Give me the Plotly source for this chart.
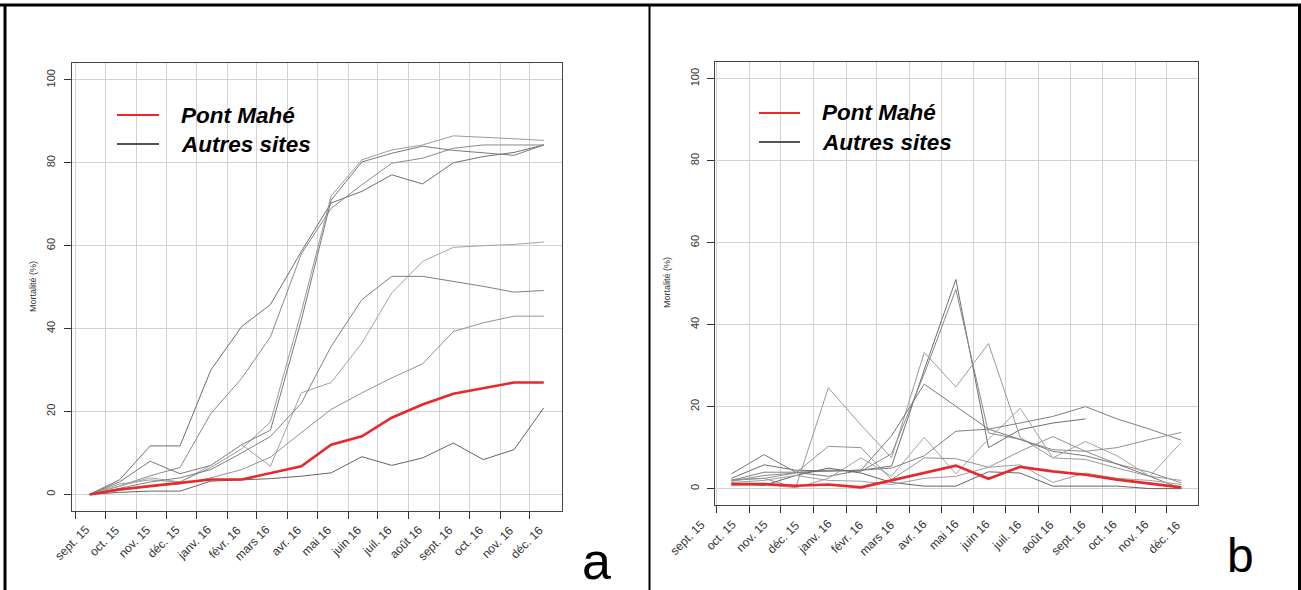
import plotly.graph_objects as go
import pandas as pd

W, H = 1301, 590

# ---------------- data ----------------
dates_a = ["2015-09-15", "2015-10-15", "2015-11-15", "2015-12-15", "2016-01-15", "2016-02-15",
           "2016-03-15", "2016-04-15", "2016-05-15", "2016-06-15", "2016-07-15", "2016-08-15",
           "2016-09-15", "2016-10-15", "2016-11-15", "2016-12-15"]
dates_b = dates_a[1:]

month_starts_a = ["2015-09-01", "2015-10-01", "2015-11-01", "2015-12-01", "2016-01-01", "2016-02-01",
                  "2016-03-01", "2016-04-01", "2016-05-01", "2016-06-01", "2016-07-01", "2016-08-01",
                  "2016-09-01", "2016-10-01", "2016-11-01", "2016-12-01"]
month_starts_b = month_starts_a[1:]

month_labels = ["sept. 15", "oct. 15", "nov. 15", "déc. 15", "janv. 16", "févr. 16", "mars 16",
                "avr. 16", "mai 16", "juin 16", "juil. 16", "août 16", "sept. 16", "oct. 16",
                "nov. 16", "déc. 16"]

# panel a : cumulative mortality (%)
pont_mahe_a = [0, 1.2, 2.0, 2.8, 3.6, 3.6, 5.2, 6.8, 12.0, 14.0, 18.5, 21.7, 24.3, 25.7, 27.0, 27.0]
autres_a_1 = [0, 3.5, 11.7, 11.7, 30.0, 40.5, 45.8, 58.6, 70.3, 73.1, 77.1, 74.9, 80.0, 81.5, 82.5, 84.3]
autres_a_2 = [0, 2.0, 4.5, 6.5, 19.5, 28.0, 38.0, 58.0, 69.0, 74.7, 79.9, 81.1, 83.5, 84.3, 84.3, 84.3]
autres_a_3 = [0, 2.5, 3.5, 3.0, 6.5, 11.0, 17.5, 44.0, 72.0, 80.7, 83.1, 84.3, 86.5, 86.2, 85.8, 85.4]
autres_a_4 = [0, 3.0, 8.0, 5.0, 7.0, 12.0, 15.5, 42.0, 71.0, 80.2, 82.3, 84.0, 83.0, 82.5, 81.8, 84.3]
autres_a_5 = [0, 2.0, 4.0, 3.0, 7.0, 12.0, 6.8, 24.5, 27.0, 36.5, 48.6, 56.2, 59.6, 60.0, 60.3, 60.9]
autres_a_6 = [0, 1.5, 3.0, 4.0, 6.0, 10.0, 14.0, 22.0, 35.7, 47.0, 52.6, 52.6, 51.4, 50.2, 48.8, 49.2]
autres_a_7 = [0, 1.0, 2.0, 2.5, 4.0, 6.0, 9.0, 14.9, 20.5, 24.5, 28.1, 31.5, 39.3, 41.4, 43.0, 43.0]
autres_a_8 = [0, 0.5, 0.8, 0.8, 3.2, 3.6, 3.8, 4.4, 5.2, 9.1, 7.0, 8.8, 12.4, 8.4, 10.8, 20.9]

# panel b : monthly mortality (%)
pont_mahe_b = [1.1, 1.1, 0.7, 1.0, 0.3, 2.0, 3.8, 5.6, 2.4, 5.3, 4.2, 3.4, 2.2, 1.2, 0.3]
autres_b_1 = [2.5, 5.8, 4.5, 4.3, 4.5, 5.5, 29.0, 51.0, 10.0, 14.4, 16.0, 17.0, None, None, None]
autres_b_2 = [1.8, 3.2, 3.8, 4.5, 4.2, 8.5, 28.0, 48.6, 13.6, 12.0, 9.5, 9.1, 6.0, 4.0, 1.4]
autres_b_3 = [2.2, 2.5, 0.2, 24.6, 15.5, 7.5, 33.2, 24.8, 35.4, 12.5, 7.5, 7.1, 5.0, 3.0, 2.0]
autres_b_4 = [3.6, 8.3, 4.0, 3.0, 4.5, 12.9, 25.5, 20.0, 14.5, 12.0, 9.1, 8.0, 6.0, 3.0, 0.0]
autres_b_5 = [0.8, 1.0, 0.2, 2.5, 7.5, 3.0, 12.5, 3.6, 12.1, 19.6, 7.5, 11.5, 8.0, 3.0, 11.3]
autres_b_6 = [2.0, 4.0, 4.0, 4.2, 4.5, 5.0, 8.0, 14.0, 14.5, 16.0, 17.6, 20.0, 17.0, 14.5, 11.8]
autres_b_7 = [2.0, 2.5, 3.8, 10.3, 10.0, 2.2, 7.5, 7.3, 5.2, 9.1, 12.7, 9.1, 10.0, 12.0, 13.7]
autres_b_8 = [1.2, 0.8, 3.2, 5.0, 3.8, 1.5, 0.6, 0.6, 4.1, 3.8, 0.6, 0.6, 0.6, 0.0, 0.0]
autres_b_9 = [1.5, 2.0, 3.2, 2.0, 1.8, 1.0, 2.5, 3.0, 5.2, 5.8, 1.5, 3.8, 2.5, 2.0, 1.0]

autres_a = [autres_a_1, autres_a_2, autres_a_3, autres_a_4, autres_a_5, autres_a_6, autres_a_7, autres_a_8]
autres_b = [autres_b_1, autres_b_2, autres_b_3, autres_b_4, autres_b_5, autres_b_6, autres_b_7,
            autres_b_8, autres_b_9]

# ---------------- style ----------------
RED = "#e8282b"
GREYS = ["#6e6e6e", "#8a8a8a", "#9a9a9a", "#7a7a7a", "#a3a3a3", "#808080", "#929292", "#656565", "#9e9e9e"]
GRID = "#d2d2d2"
FONT = "Liberation Sans, Arial, sans-serif"
RANGE_A = ["2015-08-28", "2017-01-02"]
RANGE_B = ["2015-09-29 10:00", "2016-12-30 12:00"]


def px_x(p):
    return p / W


def px_y(p):
    return 1 - p / H


fig = go.Figure()

for i, s in enumerate(autres_a):
    fig.add_trace(go.Scatter(x=dates_a, y=s, mode="lines", xaxis="x", yaxis="y",
                             line=dict(color=GREYS[i % len(GREYS)], width=1), showlegend=False,
                             name="Autres sites"))
fig.add_trace(go.Scatter(x=dates_a, y=pont_mahe_a, mode="lines", xaxis="x", yaxis="y",
                         line=dict(color=RED, width=2.6), showlegend=False, name="Pont Mahé"))

for i, s in enumerate(autres_b):
    fig.add_trace(go.Scatter(x=dates_b, y=s, mode="lines", xaxis="x2", yaxis="y2",
                             line=dict(color=GREYS[i % len(GREYS)], width=1), showlegend=False,
                             name="Autres sites", connectgaps=False))
fig.add_trace(go.Scatter(x=dates_b, y=pont_mahe_b, mode="lines", xaxis="x2", yaxis="y2",
                         line=dict(color=RED, width=2.6), showlegend=False, name="Pont Mahé"))

dom_a_x = [px_x(71.7), px_x(561.7)]
dom_a_y = [px_y(511), px_y(63.3)]
dom_b_x = [px_x(715), px_x(1197.7)]
dom_b_y = [px_y(505), px_y(62.3)]

xtickfont = dict(family=FONT, size=12, color="#333333")
ytickfont = dict(family=FONT, size=11, color="#333333")

common_x = dict(type="date", tickmode="array", showgrid=True, gridcolor=GRID, gridwidth=1,
                ticks="outside", ticklen=7, tickcolor="#333333", tickwidth=1,
                showline=True, linecolor="#444444", linewidth=1, mirror=True,
                showticklabels=False, zeroline=False, automargin=False)
common_y = dict(range=[-4, 104], tickmode="array", tickvals=[0, 20, 40, 60, 80, 100],
                showgrid=True, gridcolor=GRID, gridwidth=1, ticks="outside", ticklen=7,
                tickcolor="#333333", showline=True, linecolor="#444444", linewidth=1, mirror=True,
                tickangle=-90, tickfont=ytickfont, zeroline=False, ticklabelstandoff=4,
                automargin=False)

fig.update_layout(
    width=W, height=H, margin=dict(l=0, r=0, t=0, b=0, autoexpand=False),
    paper_bgcolor="white", plot_bgcolor="white", showlegend=False,
    xaxis=dict(domain=dom_a_x, anchor="y", range=RANGE_A, tickvals=month_starts_a, **common_x),
    yaxis=dict(domain=dom_a_y, anchor="x", **common_y),
    xaxis2=dict(domain=dom_b_x, anchor="y2", range=RANGE_B, tickvals=month_starts_b, **common_x),
    yaxis2=dict(domain=dom_b_y, anchor="x2", **common_y),
)

# rotated month labels (right end of each label sits right of its month tick, as in the original)
label_right_a = [pd.Timestamp(d) + pd.Timedelta(days=18) for d in month_starts_a]
label_right_b_px = [708.75 + k * 31.75 for k in range(len(month_labels))]
for k, txt in enumerate(month_labels):
    fig.add_annotation(xref="x", yref="paper", x=label_right_a[k], y=px_y(521.5), text=txt,
                       showarrow=False, textangle=-45, xanchor="right", yanchor="top",
                       font=xtickfont, borderpad=0)
    fig.add_annotation(xref="paper", yref="paper", x=px_x(label_right_b_px[k]), y=px_y(516),
                       text=txt, showarrow=False, textangle=-45, xanchor="right", yanchor="top",
                       font=xtickfont, borderpad=0)

# y-axis titles
for (x, y) in [(33, 287), (667, 283)]:
    fig.add_annotation(xref="paper", yref="paper", x=px_x(x), y=px_y(y), text="Mortalité (%)",
                       showarrow=False, textangle=-90, xanchor="center", yanchor="middle",
                       font=dict(family=FONT, size=9, color="#333333"))

# manual legends
legend_font = dict(family=FONT, size=22.5, color="black", weight="bold", style="italic")
for (x0, x1, tx, y1, y2) in [(117, 159, 179, 115, 144), (759, 800, 820, 113, 142)]:
    fig.add_shape(type="line", xref="paper", yref="paper", x0=px_x(x0), x1=px_x(x1),
                  y0=px_y(y1), y1=px_y(y1), line=dict(color=RED, width=2))
    fig.add_shape(type="line", xref="paper", yref="paper", x0=px_x(x0), x1=px_x(x1),
                  y0=px_y(y2), y1=px_y(y2), line=dict(color="#555555", width=2))
    fig.add_annotation(xref="paper", yref="paper", x=px_x(tx), y=px_y(y1), text="Pont Mahé",
                       showarrow=False, xanchor="left", yanchor="middle", font=legend_font)
    fig.add_annotation(xref="paper", yref="paper", x=px_x(tx), y=px_y(y2), text="Autres sites",
                       showarrow=False, xanchor="left", yanchor="middle", font=legend_font)

# panel letters
fig.add_annotation(xref="paper", yref="paper", x=px_x(596), y=px_y(561), text="a", showarrow=False,
                   xanchor="center", yanchor="middle", font=dict(family=FONT, size=52, color="black"))
fig.add_annotation(xref="paper", yref="paper", x=px_x(1240), y=px_y(555), text="b", showarrow=False,
                   xanchor="center", yanchor="middle", font=dict(family=FONT, size=48, color="black"))

# frame lines
frame = dict(color="black", width=3)
fig.add_shape(type="line", xref="paper", yref="paper", x0=0, x1=1, y0=px_y(5), y1=px_y(5), line=frame)
fig.add_shape(type="line", xref="paper", yref="paper", x0=px_x(5), x1=px_x(5), y0=0, y1=px_y(5), line=frame)
fig.add_shape(type="line", xref="paper", yref="paper", x0=px_x(649.5), x1=px_x(649.5), y0=0, y1=px_y(5),
              line=dict(color="black", width=2))
fig.add_shape(type="line", xref="paper", yref="paper", x0=px_x(1299.5), x1=px_x(1299.5), y0=0, y1=px_y(5),
              line=frame)

fig.write_html("out.html")
